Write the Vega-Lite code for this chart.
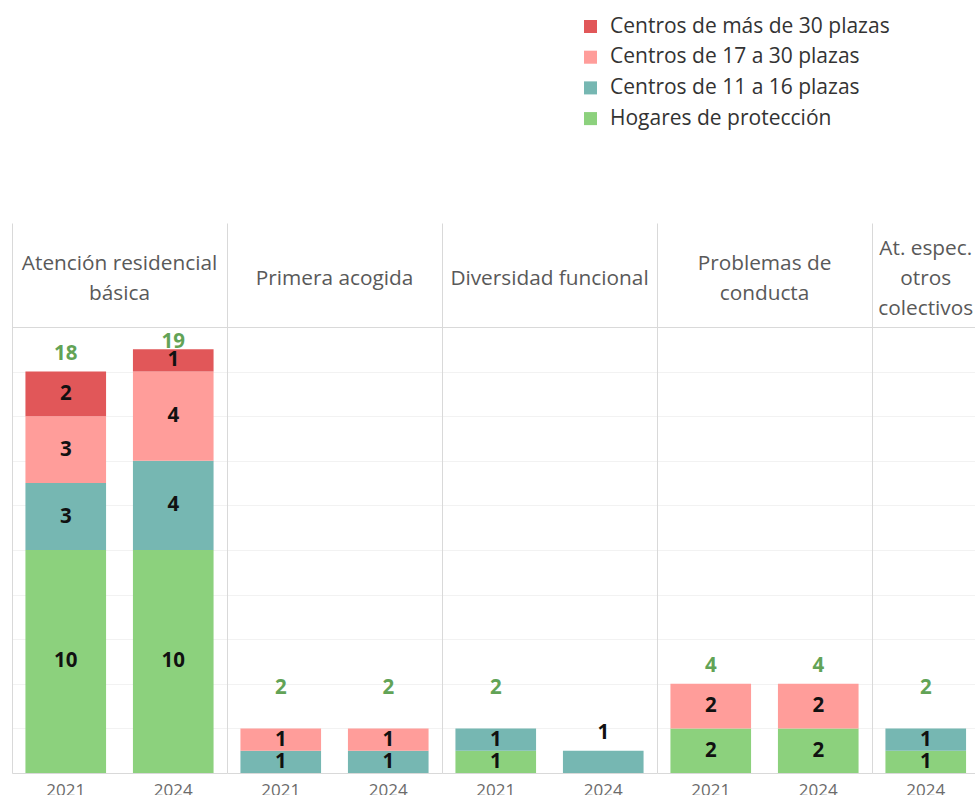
{
  "$schema": "https://vega.github.io/schema/vega-lite/v6.json",
  "padding": {"left": 12, "top": 16, "right": 0, "bottom": 0},
  "autosize": {"type": "pad"},
  "background": "white",
  "config": {"font": "Open Sans", "view": {"stroke": null}},
  "data": {
    "values": [
      {"cat": "Atención residencial\nbásica", "anio": "2021", "tipo": "Hogares de protección", "valor": 10},
      {"cat": "Atención residencial\nbásica", "anio": "2021", "tipo": "Centros de 11 a 16 plazas", "valor": 3},
      {"cat": "Atención residencial\nbásica", "anio": "2021", "tipo": "Centros de 17 a 30 plazas", "valor": 3},
      {"cat": "Atención residencial\nbásica", "anio": "2021", "tipo": "Centros de más de 30 plazas", "valor": 2},
      {"cat": "Atención residencial\nbásica", "anio": "2024", "tipo": "Hogares de protección", "valor": 10},
      {"cat": "Atención residencial\nbásica", "anio": "2024", "tipo": "Centros de 11 a 16 plazas", "valor": 4},
      {"cat": "Atención residencial\nbásica", "anio": "2024", "tipo": "Centros de 17 a 30 plazas", "valor": 4},
      {"cat": "Atención residencial\nbásica", "anio": "2024", "tipo": "Centros de más de 30 plazas", "valor": 1},
      {"cat": "Primera acogida", "anio": "2021", "tipo": "Centros de 11 a 16 plazas", "valor": 1},
      {"cat": "Primera acogida", "anio": "2021", "tipo": "Centros de 17 a 30 plazas", "valor": 1},
      {"cat": "Primera acogida", "anio": "2024", "tipo": "Centros de 11 a 16 plazas", "valor": 1},
      {"cat": "Primera acogida", "anio": "2024", "tipo": "Centros de 17 a 30 plazas", "valor": 1},
      {"cat": "Diversidad funcional", "anio": "2021", "tipo": "Hogares de protección", "valor": 1},
      {"cat": "Diversidad funcional", "anio": "2021", "tipo": "Centros de 11 a 16 plazas", "valor": 1},
      {"cat": "Diversidad funcional", "anio": "2024", "tipo": "Centros de 11 a 16 plazas", "valor": 1},
      {"cat": "Problemas de\nconducta", "anio": "2021", "tipo": "Hogares de protección", "valor": 2},
      {"cat": "Problemas de\nconducta", "anio": "2021", "tipo": "Centros de 17 a 30 plazas", "valor": 2},
      {"cat": "Problemas de\nconducta", "anio": "2024", "tipo": "Hogares de protección", "valor": 2},
      {"cat": "Problemas de\nconducta", "anio": "2024", "tipo": "Centros de 17 a 30 plazas", "valor": 2},
      {"cat": "At. espec.\notros\ncolectivos", "anio": "2024", "tipo": "Hogares de protección", "valor": 1},
      {"cat": "At. espec.\notros\ncolectivos", "anio": "2024", "tipo": "Centros de 11 a 16 plazas", "valor": 1}
    ]
  },
  "transform": [
    {"calculate": "indexof(['Hogares de protección','Centros de 11 a 16 plazas','Centros de 17 a 30 plazas','Centros de más de 30 plazas'], datum.tipo)", "as": "orden"},
    {"stack": "valor", "groupby": ["cat", "anio"], "sort": [{"field": "orden", "order": "ascending"}], "as": ["y0", "y1"]},
    {"joinaggregate": [
      {"op": "sum", "field": "valor", "as": "total"},
      {"op": "count", "as": "nseg"},
      {"op": "max", "field": "orden", "as": "maxorden"}
    ], "groupby": ["cat", "anio"]},
    {"calculate": "(datum.y0 + datum.y1) / 2", "as": "ymid"},
    {"calculate": "datum.nseg < 2 ? datum.total : clamp(datum.total, 3, 18.5)", "as": "ytot"}
  ],
  "facet": {
    "column": {
      "field": "cat",
      "type": "nominal",
      "sort": ["Atención residencial\nbásica", "Primera acogida", "Diversidad funcional", "Problemas de\nconducta", "At. espec.\notros\ncolectivos"],
      "header": {"title": null, "labels": false}
    }
  },
  "spacing": 0,
  "resolve": {"scale": {"x": "independent"}, "axis": {"y": "independent"}},
  "spec": {
    "width": {"step": 107.5},
    "height": 550,
    "layer": [
      {
        "mark": {"type": "bar"},
        "encoding": {
          "x": {
            "field": "anio",
            "type": "nominal",
            "scale": {"paddingInner": 0.25, "paddingOuter": 0.125},
            "axis": {"title": null, "labelAngle": 0, "ticks": false, "domainColor": "#d9d9d9", "labelFontSize": 17, "labelColor": "#6b6b6b", "labelPadding": 9, "grid": false}
          },
          "y": {
            "field": "y1",
            "type": "quantitative",
            "scale": {"domain": [0, 24.66], "nice": false, "zero": true},
            "axis": {
              "title": null, "labels": false, "ticks": false, "domain": true, "domainColor": "#d9d9d9",
              "grid": true,
              "gridColor": {"condition": {"test": "datum.value === 20", "value": "#d9d9d9"}, "value": "#f2f2f2"},
              "values": [0, 2, 4, 6, 8, 10, 12, 14, 16, 18, 20]
            }
          },
          "y2": {"field": "y0"},
          "color": {
            "field": "tipo",
            "type": "nominal",
            "scale": {
              "domain": ["Centros de más de 30 plazas", "Centros de 17 a 30 plazas", "Centros de 11 a 16 plazas", "Hogares de protección"],
              "range": ["#e15759", "#ff9d9a", "#76b7b2", "#8cd17d"]
            },
            "legend": {
              "orient": "none", "legendX": 568, "legendY": -207, "title": null,
              "symbolType": "square", "symbolSize": 170, "symbolStrokeWidth": 0,
              "labelFontSize": 21, "labelColor": "#333333", "rowPadding": 8.7, "labelOffset": 9, "labelLimit": 400
            }
          }
        }
      },
      {
        "transform": [{"filter": "datum.nseg > 1"}],
        "mark": {"type": "text", "fontSize": 20.5, "fontWeight": "bold", "color": "#111111", "baseline": "middle"},
        "encoding": {
          "x": {"field": "anio", "type": "nominal"},
          "y": {"field": "ymid", "type": "quantitative"},
          "text": {"field": "valor", "type": "quantitative"}
        }
      },
      {
        "transform": [{"filter": "datum.orden === datum.maxorden"}],
        "mark": {"type": "text", "fontSize": 20.5, "fontWeight": "bold", "baseline": "middle", "dy": -18},
        "encoding": {
          "x": {"field": "anio", "type": "nominal"},
          "y": {"field": "ytot", "type": "quantitative"},
          "text": {"field": "total", "type": "quantitative"},
          "color": {"condition": {"test": "datum.nseg > 1", "value": "#62a356"}, "value": "#111111"}
        }
      },
      {
        "transform": [
          {"aggregate": [{"op": "count", "as": "n"}], "groupby": ["cat"]},
          {"calculate": "22.17 + (length(split(datum.cat, '\\n')) - 1) * 0.67", "as": "yh"}
        ],
        "mark": {"type": "text", "lineBreak": "\n", "fontSize": 20.8, "color": "#595959", "lineHeight": 30, "baseline": "middle"},
        "encoding": {
          "x": {"value": {"expr": "range('child_x')[1] / 2"}},
          "y": {"field": "yh", "type": "quantitative"},
          "text": {"field": "cat", "type": "nominal"}
        }
      }
    ]
  }
}
